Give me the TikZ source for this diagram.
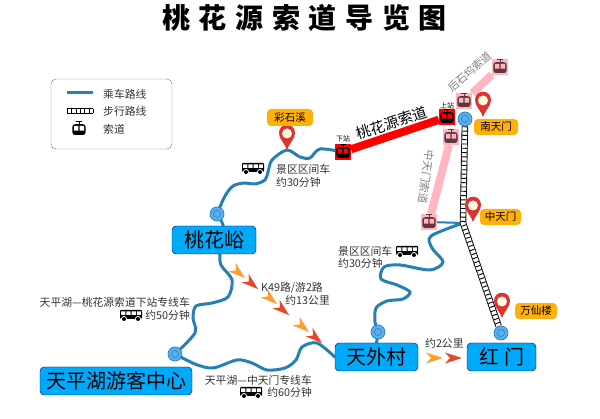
\documentclass[tikz,border=0pt]{standalone}
\usepackage{fontspec}
\setmainfont{Noto Sans CJK SC}
\usetikzlibrary{backgrounds}
\definecolor{routeblue}{RGB}{38,128,180}
\definecolor{boxblue}{RGB}{0,170,250}
\definecolor{dotblue}{RGB}{90,175,240}
\definecolor{tagorange}{RGB}{255,176,10}
\definecolor{pinred}{RGB}{225,50,50}
\definecolor{ropepink}{RGB}{255,182,193}
\definecolor{cabinbrown}{RGB}{95,55,60}
\definecolor{arroworange}{RGB}{250,160,50}
\definecolor{arrowred}{RGB}{235,70,40}
\tikzset{
  route/.style={routeblue, line width=3pt, line cap=round},
  placebox/.style={draw=black!75!blue, fill=boxblue, rounded corners=4pt, inner sep=0pt, font=\fontsize{20}{22}\selectfont},
  tag/.style={fill=tagorange, rounded corners=4pt, inner sep=0pt, font=\fontsize{10.5}{12}\selectfont},
  station/.style={circle, draw=routeblue, fill=dotblue, line width=.7pt, minimum size=14pt, inner sep=0pt, path picture={\draw[routeblue, line width=.5pt] (path picture bounding box.center) circle (3.6pt);}},
  note/.style={inner sep=0pt, text=black!80, font=\fontsize{10.8}{12}\selectfont},
  rail/.style={line width=6.5pt, black, postaction={draw, white, line width=4.7pt}, postaction={draw, black, line width=4.7pt, dash pattern=on .9pt off 3.4pt}},
  gondolabox/.style={minimum size=16pt, inner sep=0pt},
  pics/gondola/.style 2 args={code={
    \draw[#1, line width=.8pt] (0,-7.5) -- (0,-5) (-3.2,-7.5) -- (3.2,-7.5);
    \fill[#1, rounded corners=2.6pt] (-6.6,-4.8) rectangle (6.6,6);
    \fill[#2] (-5,-3.2) rectangle (-.6,1.6) (.6,-3.2) rectangle (5,1.6);
  }},
  mappin/.pic={
    \fill[pinred] (0,0) .. controls (-3,-8) and (-8,-11) .. (-8,-17) .. controls (-8,-28) and (8,-28) .. (8,-17) .. controls (8,-11) and (3,-8) .. (0,0);
    \fill[white!90!yellow] (0,-16.5) circle (5pt);
  },
  bus/.pic={
    \fill[black, rounded corners=1pt] (-11,-5) rectangle (11,4);
    \fill[white] (-9.8,-3.6) rectangle (-5.6,0) (-4.6,-3.6) rectangle (-.4,0) (.6,-3.6) rectangle (4.8,0) (5.8,-3.6) rectangle (9.8,0);
    \fill[white] (-7,4) circle (3pt) (7,4) circle (3pt);
    \fill[black] (-7,4) circle (2pt) (7,4) circle (2pt);
  },
  chevron/.pic={
    \fill[#1] (8,0) -- (-9,-5.5) -- (-4,0) -- (-9,5.5) -- cycle;
  },
}

\begin{document}
\begin{tikzpicture}[x=1pt, y=-1pt]
  \useasboundingbox (0,0) rectangle (600,419);
  \node [inner sep=0pt, font=\fontsize{28}{30}\bfseries\selectfont] (title) at (304.5,18) {桃\hspace{8.7pt}花\hspace{8.7pt}源\hspace{8.7pt}索\hspace{8.7pt}道\hspace{8.7pt}导\hspace{8.7pt}览\hspace{8.7pt}图};

  % legend
  \node [draw=black!55, rounded corners=5pt, minimum width=121pt, minimum height=70pt, inner sep=0pt] (legend) at (111.5,114) {};
  \coordinate (busa) at (67,93);
  \coordinate (busb) at (93,93);
  \coordinate (raila) at (67,111);
  \coordinate (railb) at (93,111);
  \draw [route, line cap=butt] (busa) -- (busb);
  \draw [rail] (raila) -- (railb);
  \path (79,129) pic {gondola={black}{white}};
  \foreach \y/\t in {94/乘车路线,111/步行路线,129/索道}{
    \node [note, anchor=west] at (103,\y) {\t};
  }

  % places
  \node [placebox, minimum width=84pt, minimum height=28pt] (taohuayu) at (214,240) {桃花峪};
  \node [placebox, minimum width=152pt, minimum height=28pt] (youke) at (116,381) {天平湖游客中心};
  \node [placebox, minimum width=83pt, minimum height=28pt] (tianwai) at (376.5,357) {天外村};
  \node [placebox, minimum width=69pt, minimum height=28pt] (hongmen) at (501.5,357) {红\hspace{5pt}门};

  \node [station] (sttaohua) at (217,214) {};
  \node [station] (stlake) at (175,354) {};
  \node [station] (sttianwai) at (378,332) {};
  \node [station] (sthongmen) at (501,333) {};
  \node [station] (stnantian) at (465,119) {};

  % ropeway stations
  \node [gondolabox, fill=red] (lower) at (343,152) {};
  \node [gondolabox, fill=red] (upper) at (447,117) {};
  \node [gondolabox, fill=ropepink] (houa) at (464,101) {};
  \node [gondolabox, fill=ropepink] (houb) at (500,67) {};
  \node [gondolabox, fill=ropepink] (zhonga) at (451,137) {};
  \node [gondolabox, fill=ropepink] (zhongb) at (429,222) {};

  \coordinate (zhongrail) at (463,223);
  \begin{scope}[on background layer]
    \draw [red, line width=8pt] (lower) -- (upper);
    \draw [ropepink, line width=8pt] (houa) -- (houb);
    \draw [ropepink, line width=8pt] (zhonga) -- (zhongb);
    \draw [route] plot [smooth] coordinates {(sttaohua) (225,196) (233,186) (244,183) (255,184) (265,180) (268,172) (272,160) (287,150) (300,157) (310,158) (320,149) (lower)};
    \draw [route] plot [smooth] coordinates {(sttaohua) (223,225) (223,240) (220,253) (221,265) (232,280) (228,297) (212,303) (196,306) (193,318) (195,333) (stlake)};
    \draw [route] plot [smooth] coordinates {(stlake) (195,364) (213,368) (237,360) (252,363) (267,370) (285,368) (296,360) (302,347) (317,343) (tianwai.west)};
    \draw [route] plot [smooth] coordinates {(tianwai.north) (sttianwai) (375,322) (376,308) (387,301) (403,299) (410,292) (397,285) (381,279) (384,267) (400,265) (430,270) (443,262) (432,248) (431,236) (zhongrail)};
    \draw [route, line width=2pt] (zhongb) -- (zhongrail);
    \draw [rail] (stnantian) -- (zhongrail) -- (sthongmen);
  \end{scope}

  \path (lower) pic {gondola={black}{red}};
  \path (upper) pic {gondola={black}{red}};
  \foreach \n in {houa,houb,zhonga,zhongb}{
    \path (\n) pic {gondola={cabinbrown}{ropepink}};
  }
  \node [inner sep=0pt, font=\fontsize{7}{8}\selectfont] (xiazhan) at (343,139) {下站};
  \node [inner sep=0pt, font=\fontsize{7}{8}\selectfont] (shangzhan) at (447,106) {上站};
  \node [inner sep=0pt, rotate=18.5, font=\fontsize{14.7}{16}\selectfont] (ropemain) at (392,123) {桃花源索道};
  \node [note, text=black!50, rotate=-98] (ropezhong) at (426,177) {中天门索道};
  \node [note, text=black!50, rotate=41] (ropehou) at (470,72) {后石坞索道};

  % pins and tags
  \foreach \x/\y in {287/150,483/117,473/222,502/318}{
    \path (\x,\y) pic {mappin};
  }
  \node [tag, minimum width=46pt, minimum height=17pt] (caishixi) at (290,117.5) {彩石溪};
  \node [tag, minimum width=44pt, minimum height=16pt] (nantianmen) at (496,127) {南天门};
  \node [tag, minimum width=41pt, minimum height=16pt] (zhongtianmen) at (500.5,217) {中天门};
  \node [tag, minimum width=42pt, minimum height=16pt] (wanxianlou) at (536,311) {万仙楼};

  % route notes
  \path (253,168) pic {bus};
  \path (131,315) pic {bus};
  \path (407,251) pic {bus};
  \path (251,392) pic {bus};
  \node [note, anchor=west] (notea) at (276,169) {景区区间车};
  \node [note, anchor=west] (noteb) at (276,182) {约30分钟};
  \node [note, anchor=west] (notec) at (338,251) {景区区间车};
  \node [note, anchor=west] (noted) at (338,263) {约30分钟};
  \node [note, anchor=west] (notee) at (261,288) {K49路/游2路};
  \node [note, anchor=east] (notef) at (330,300) {约13公里};
  \node [note, anchor=east] (noteg) at (190,302) {天平湖—桃花源索道下站专线车};
  \node [note, anchor=east] (noteh) at (190,315) {约50分钟};
  \node [note, anchor=east] (notei) at (312,380) {天平湖—中天门专线车};
  \node [note, anchor=east] (notej) at (312,392) {约60分钟};
  \node [note, anchor=west] (notek) at (425,343) {约2公里};

  % direction arrows
  \foreach \x/\y/\c in {239/273/arroworange,252/284/arrowred,271/299/arroworange,283/310/arrowred,303/327/arroworange,316/338/arrowred}{
    \path (\x,\y) pic [rotate=-40] {chevron=\c};
  }
  \path (435,358) pic {chevron=arroworange};
  \path (454,358) pic {chevron=arrowred};
\end{tikzpicture}
\end{document}
